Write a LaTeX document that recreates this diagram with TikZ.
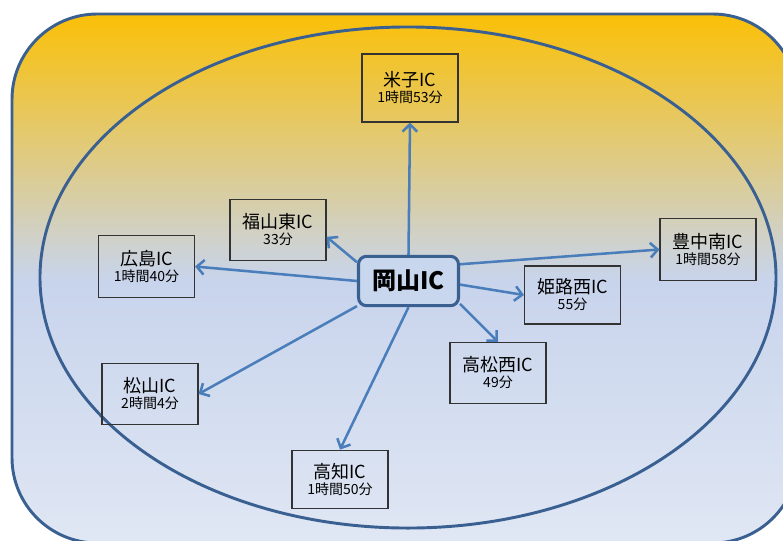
\documentclass[tikz,border=0pt]{standalone}
\usepackage{fontspec}
\newfontfamily\jp{Noto Sans CJK JP}
\usetikzlibrary{arrows.meta}
\definecolor{frameblue}{RGB}{58,96,146}
\definecolor{arrowblue}{RGB}{74,126,187}
\definecolor{gold}{RGB}{250,192,8}
\definecolor{midblue}{RGB}{200,212,236}
\definecolor{lowblue}{RGB}{224,231,244}
\definecolor{centerfill}{RGB}{200,214,238}
\newcommand{\ttl}[1]{{\fontsize{13.5}{16}\selectfont #1}}
\newcommand{\sbt}[1]{{\fontsize{10.5}{13}\selectfont #1}}
\begin{document}
\begin{tikzpicture}[x=0.75pt,y=-0.75pt,font=\jp,
  icbox/.style={draw=black!80,line width=0.8pt,minimum width=72pt,minimum height=46pt,align=center,inner sep=1pt},
  hub/.style={draw=frameblue,line width=2.3pt,fill=centerfill,rounded corners=6pt,minimum width=75pt,minimum height=37pt,inner sep=0pt,font=\jp\bfseries\fontsize{18}{20}\selectfont},
  link/.style={draw=arrowblue,line width=1.9pt,-{Straight Barb[length=5.5pt,width=11pt]}}]
\useasboundingbox (0,0) rectangle (783,540);
\begin{scope}
\clip (0,0) rectangle (783,540);
\begin{scope}
\clip (12,14) [rounded corners=64pt] rectangle (798,543);
\foreach \yy in {14,17,...,278} {
  \pgfmathsetmacro{\pp}{(278-\yy)/2.64}
  \fill[gold!\pp!midblue] (0,\yy) rectangle (800,\yy+3.4);
}
\foreach \yy in {278,281,...,545} {
  \pgfmathsetmacro{\pp}{max(0,(543-\yy)/2.65)}
  \fill[midblue!\pp!lowblue] (0,\yy) rectangle (800,\yy+3.4);
}
\end{scope}
\draw[frameblue,line width=2.2pt,rounded corners=64pt] (12,14) rectangle (798,543);
\end{scope}
\draw[frameblue,line width=2.2pt] (408,277.5) ellipse [x radius=276pt,y radius=187.9pt];

\node[hub] (c) at (408.5,281) {岡山IC};
\node[icbox,minimum height=51pt] (yonago) at (410,88) {\ttl{米子IC}\\\sbt{1時間53分}};
\node[icbox] (fuku) at (278,230) {\ttl{福山東IC}\\\sbt{33分}};
\node[icbox] (hiro) at (146.5,266.5) {\ttl{広島IC}\\\sbt{1時間40分}};
\node[icbox] (toyo) at (708,249.5) {\ttl{豊中南IC}\\\sbt{1時間58分}};
\node[icbox,minimum height=43.5pt] (himeji) at (572.5,295) {\ttl{姫路西IC}\\\sbt{55分}};
\node[icbox] (taka) at (498,373) {\ttl{高松西IC}\\\sbt{49分}};
\node[icbox] (matsu) at (150,394) {\ttl{松山IC}\\\sbt{2時間4分}};
\node[icbox,minimum height=44pt] (kochi) at (340,479.5) {\ttl{高知IC}\\\sbt{1時間50分}};

\draw[link] (c.north) -- (yonago.south);
\draw[link] (c.160) -- (fuku.-8);
\draw[link] (c.west) -- (hiro.east);
\draw[link] (c.18) -- (toyo.west);
\draw[link] (c.-4) -- (himeji.west);
\draw[link] (c.-24) -- (taka.north);
\draw[link] (c.206) -- (matsu.east);
\draw[link] (c.south) -- (kochi.north);
\end{tikzpicture}
\end{document}
